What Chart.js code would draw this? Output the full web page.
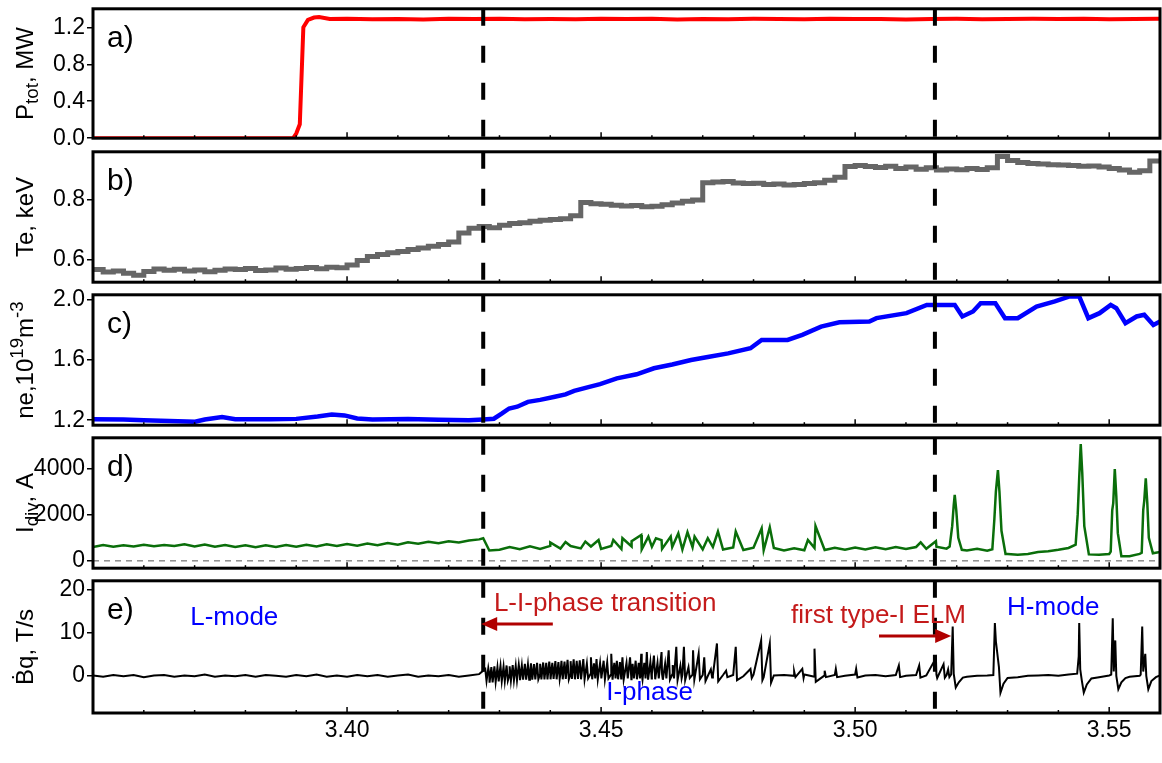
<!DOCTYPE html>
<html>
<head>
<meta charset="utf-8">
<script src="https://cdn.jsdelivr.net/npm/chart.js@4.4.1/dist/chart.umd.min.js"></script>
<style>
    html, body { margin: 0; padding: 0; background: #fff; }
    #wrap { position: relative; width: 1162px; height: 763px; overflow: hidden; background: #fff; }
    #wrap canvas { position: absolute; left: 0; }
</style>
</head>
<body>
<div id="wrap"></div>
<script>
// 1. Data
const tMin = 3.35, tMax = 3.56;
const xTickValues = [3.40, 3.45, 3.50, 3.55];
const xTickLabels = ['3.40', '3.45', '3.50', '3.55'];
const transitionTimes = [3.4268, 3.5157];   // L-I transition, first type-I ELM

// a) total power, MW
const ptotTimes = [3.350, 3.3894, 3.3900, 3.3907, 3.3914, 3.3923, 3.3935, 3.3945, 3.3966,
    3.400, 3.405, 3.410, 3.415, 3.420, 3.425, 3.430, 3.435, 3.440, 3.445, 3.450,
    3.455, 3.460, 3.465, 3.470, 3.475, 3.480, 3.485, 3.490, 3.495, 3.500, 3.505,
    3.510, 3.515, 3.520, 3.525, 3.530, 3.535, 3.540, 3.545, 3.550, 3.555, 3.560];
const ptotValues = [0, 0, 0.05, 0.15, 1.20, 1.28, 1.305, 1.31, 1.29,
    1.292, 1.288, 1.290, 1.285, 1.291, 1.289, 1.293, 1.287, 1.290, 1.288, 1.292,
    1.289, 1.291, 1.284, 1.290, 1.288, 1.291, 1.290, 1.287, 1.292, 1.289, 1.290,
    1.285, 1.289, 1.291, 1.288, 1.290, 1.292, 1.289, 1.291, 1.286, 1.290, 1.291];

// b) Te, keV — samples every 2 ms from 3.350
const teValues = [
    0.568, 0.560, 0.563, 0.556, 0.549, 0.562, 0.570, 0.566, 0.569, 0.563,
    0.567, 0.561, 0.566, 0.570, 0.568, 0.572, 0.565, 0.567, 0.573, 0.569,
    0.572, 0.575, 0.571, 0.576, 0.574, 0.583, 0.598, 0.612, 0.618, 0.624,
    0.628, 0.635, 0.640, 0.646, 0.652, 0.660, 0.690, 0.706, 0.712, 0.708,
    0.716, 0.722, 0.724, 0.729, 0.733, 0.735, 0.738, 0.748, 0.792, 0.788,
    0.786, 0.783, 0.780, 0.782, 0.778, 0.779, 0.784, 0.790, 0.796, 0.800,
    0.858, 0.860, 0.862, 0.857, 0.855, 0.856, 0.852, 0.854, 0.850, 0.852,
    0.855, 0.858, 0.866, 0.876, 0.912, 0.915, 0.912, 0.909, 0.913, 0.905,
    0.910, 0.903, 0.908, 0.900, 0.904, 0.901, 0.905, 0.902, 0.908, 0.945,
    0.932, 0.925, 0.922, 0.920, 0.918, 0.917, 0.915, 0.913, 0.914, 0.910,
    0.905, 0.900, 0.893, 0.898, 0.930, 0.922];

// c) ne, 10^19 m^-3
const neTimes = [3.350, 3.356, 3.360, 3.3701, 3.372, 3.3754, 3.378, 3.385, 3.390, 3.3942,
    3.397, 3.3995, 3.402, 3.405, 3.412, 3.418, 3.424, 3.4268, 3.4289, 3.4305,
    3.4319, 3.4335, 3.4356, 3.438, 3.4409, 3.443, 3.4447, 3.4475, 3.4498, 3.4531,
    3.457, 3.4604, 3.464, 3.4677, 3.471, 3.475, 3.4794, 3.4816, 3.4867, 3.4896,
    3.4933, 3.4969, 3.5028, 3.5042, 3.5101, 3.5141, 3.5196, 3.5211, 3.5232, 3.5247,
    3.5276, 3.5295, 3.532, 3.5357, 3.5393, 3.5422, 3.5441, 3.5459, 3.5481, 3.5503,
    3.5514, 3.5532, 3.5554, 3.5569, 3.5587, 3.560];
const neValues = [1.207, 1.205, 1.200, 1.190, 1.205, 1.222, 1.207, 1.207, 1.209, 1.225,
    1.238, 1.232, 1.212, 1.205, 1.208, 1.204, 1.200, 1.205, 1.210, 1.245,
    1.278, 1.290, 1.322, 1.335, 1.356, 1.372, 1.395, 1.420, 1.440, 1.478,
    1.505, 1.545, 1.570, 1.600, 1.620, 1.644, 1.678, 1.733, 1.733, 1.767,
    1.822, 1.851, 1.855, 1.878, 1.911, 1.966, 1.966, 1.889, 1.922, 1.977,
    1.977, 1.878, 1.878, 1.955, 1.989, 2.022, 2.022, 1.878, 1.911, 1.966,
    1.944, 1.844, 1.889, 1.900, 1.833, 1.855];

// d) Idiv, A — base samples every 2 ms from 3.350
const idivBase = [
    600, 690, 610, 680, 620, 700, 630, 690, 640, 720,
    620, 710, 610, 690, 600, 680, 590, 670, 600, 690,
    610, 700, 620, 720, 640, 730, 660, 750, 680, 770,
    700, 800, 740, 830, 760, 850, 800, 880, 930, 450,
    480, 600, 500, 630, 520, 650, 530, 640, 540, 620,
    520, 640, 510, 620, 500, 610, 520, 600, 490, 590,
    500, 600, 490, 580, 470, 570, 460, 560, 450, 550,
    460, 560, 470, 570, 480, 580, 490, 590, 500, 600,
    510, 600, 520, 610, 530, 520, 450, 520, 440, 450,
    300, 260, 300, 380, 420, 480, 560, 620, 380, 260,
    300, 300, 200, 300, 350, 380];
const idivSpikeTimes = [3.4268, 3.4400, 3.4430, 3.4469, 3.4495, 3.4524, 3.4542, 3.4560, 3.4579, 3.4593,
    3.4608, 3.4619, 3.4637, 3.4652, 3.4670, 3.4684, 3.4710, 3.4730, 3.4765, 3.4816,
    3.4832, 3.4907, 3.4922, 3.5129, 3.5159];
const idivSpikeValues = [980, 800, 820, 835, 900, 906, 980, 850, 1120, 1050,
    980, 900, 1050, 1190, 1240, 1050, 980, 1270, 1270, 1410,
    1450, 900, 1510, 800, 850];
const idivElmTimes = [
    [3.5186, 3.5191, 3.5194, 3.5196, 3.5199, 3.5203, 3.5210],
    [3.5270, 3.5274, 3.5277, 3.5281, 3.5284, 3.5288, 3.5296],
    [3.5434, 3.5438, 3.5441, 3.5444, 3.5447, 3.5451, 3.5460],
    [3.5503, 3.5506, 3.5508, 3.5511, 3.5514, 3.5517, 3.5524],
    [3.5564, 3.5567, 3.5569, 3.5572, 3.5575, 3.5578, 3.5586]];
const idivElmValues = [
    [620, 1500, 2400, 2850, 2200, 1000, 480],
    [500, 1800, 3000, 3930, 3000, 1300, 300],
    [700, 2000, 3600, 5050, 3800, 1500, 280],
    [400, 2200, 2500, 3970, 2800, 1200, 200],
    [350, 2200, 2600, 3570, 2500, 1000, 330]];

// e) dB/dt, T/s — base samples every 2 ms from 3.350
const bdotBase = [
    0.1, -0.2, 0.2, -0.1, 0.2, -0.3, 0.1, 0.2, -0.2, 0.1,
    -0.1, 0.3, -0.2, 0.1, -0.1, 0.2, -0.2, 0.2, 0.0, -0.2,
    0.2, -0.1, 0.3, -0.2, 0.1, -0.2, 0.2, -0.1, 0.2, -0.2,
    0.1, 0.3, -0.2, 0.1, -0.1, 0.2, -0.2, 0.1, 0.4, 0.3,
    0.5, 0.4, 0.6, 0.5, 0.4, 0.6, 0.5, 0.5, 0.4, 0.6,
    0.5, 0.4, 0.5, 0.4, 0.3, 0.5, 0.4, 0.3, 0.2, 0.3,
    0.2, 0.1, 0.2, 0.2, -0.1, 0.3, -0.3, 0.1, 0.2, 0.0,
    0.3, -0.2, 0.1, 0.2, 0.0, 0.3, 0.1, 0.2, -0.1, 0.2,
    0.0, 0.2, 0.1, 0.3, 0.2, 0.0, -0.2, 0.0, 0.1, 0.0,
    0.0, -0.3, 0.0, 0.1, 0.2, 0.0, 0.3, 0.0, 0.0, -0.3,
    0.1, 0.0, -0.2, 0.0, 0.0, 0.1];
const bdotSpikeTimes = [
    3.4272, 3.4278, 3.4284, 3.4290, 3.4296, 3.4302, 3.4308, 3.4314, 3.4320, 3.4326,
    3.4332, 3.4338, 3.4344, 3.4350, 3.4356, 3.4362, 3.4368, 3.4374, 3.4380, 3.4386,
    3.4392, 3.4398, 3.4404, 3.4410, 3.4416, 3.4422, 3.4428, 3.4434, 3.4440, 3.4446,
    3.4452, 3.4458, 3.4465, 3.4472, 3.4480, 3.4486, 3.4491, 3.4498, 3.4505, 3.4512,
    3.4520, 3.4526, 3.4531, 3.4537, 3.4542, 3.4550, 3.4557, 3.4562, 3.4568, 3.4574,
    3.4579, 3.4585, 3.4590, 3.4597, 3.4604, 3.4611, 3.4619, 3.4626, 3.4633, 3.4641,
    3.4648, 3.4656, 3.4663, 3.4672, 3.4681, 3.4692, 3.4703, 3.4716, 3.4728, 3.4746,
    3.4765, 3.4794, 3.4815, 3.4832, 3.4880, 3.4896, 3.4920, 3.4940, 3.4962, 3.5002,
    3.5086, 3.5126, 3.5159, 3.5174, 3.5183];
const bdotSpikePeaks = [
    1.6, 1.8, 2.0, 2.2, 2.0, 2.3, 2.1, 2.4, 2.2, 2.5,
    2.3, 2.6, 2.4, 2.8, 2.6, 2.9, 2.7, 3.0, 2.8, 3.1,
    3.0, 3.3, 3.0, 3.4, 3.2, 3.5, 3.3, 3.7, 3.4, 3.8,
    3.5, 3.6, 3.9, 2.8, 4.3, 2.9, 3.9, 3.0, 3.5, 3.1,
    5.1, 3.0, 3.5, 3.2, 4.3, 3.0, 4.3, 2.8, 3.5, 3.0,
    5.1, 3.0, 5.5, 3.2, 4.7, 3.0, 5.5, 2.8, 5.9, 2.5,
    6.7, 2.3, 6.7, 2.0, 5.9, 5.1, 4.3, 1.5, 7.5, 1.2,
    6.7, 1.6, 8.2, 7.5, 1.0, 1.6, 6.3, 1.2, 1.6, 1.6,
    2.4, 2.4, 4.1, 2.7, 1.5];
const bdotSpikeLows = [
    -1.2, -1.6, -1.5, -1.4, -1.3, -1.2, -1.2, -1.1, -1.1, -1.0,
    -1.0, -1.0, -0.9, -0.9, -0.9, -0.9, -0.8, -0.8, -0.8, -0.8,
    -0.8, -0.8, -0.7, -0.8, -0.7, -0.8, -0.7, -0.8, -0.7, -0.8,
    -0.7, -0.8, -0.8, -0.6, -0.8, -0.6, -0.8, -0.6, -0.8, -0.6,
    -0.9, -0.6, -0.8, -0.6, -0.8, -0.6, -0.8, -0.6, -0.8, -0.6,
    -0.9, -0.6, -0.9, -0.6, -0.8, -0.6, -0.9, -0.6, -0.9, -0.6,
    -1.0, -0.6, -1.0, -0.5, -0.9, -0.8, -1.2, -0.4, -1.3, -0.3,
    -1.0, -0.5, -1.0, -1.6, -0.3, -0.5, -1.4, -0.3, -0.3, -0.4,
    -0.3, -0.4, -0.5, -0.4, -0.3];
const bdotElmTimes = [
    [3.5189, 3.5192, 3.5194, 3.5198, 3.5204, 3.5212],
    [3.5272, 3.5275, 3.5277, 3.5283, 3.5286, 3.5292, 3.5300],
    [3.5437, 3.5440, 3.5441, 3.5443, 3.5446, 3.5450, 3.5456, 3.5465],
    [3.5504, 3.5507, 3.5509, 3.5512, 3.5514, 3.5518, 3.5524, 3.5532],
    [3.5562, 3.5565, 3.5567, 3.5571, 3.5573, 3.5577, 3.5583, 3.5592]];
const bdotElmValues = [
    [0.3, 11.4, 0.5, -2.7, -1.5, -0.4],
    [0.2, 12.2, 8.0, 2.0, -3.9, -1.8, -0.5],
    [0.5, 4.5, 12.2, 1.5, -1.0, -3.9, -2.0, -0.6],
    [0.3, 13.3, 1.0, 8.2, 0.0, -3.1, -1.5, -0.5],
    [0.3, 11.4, 1.0, 5.1, 0.0, -3.1, -1.2, -0.3]];

// 2. Helpers
const FONT = "'Liberation Sans', Arial, sans-serif";

function gridTimes(n) {
    const out = [];
    for (let i = 0; i < n; i++) out.push(Math.round((tMin + i * 0.002) * 10000) / 10000);
    return out;
}

function toPoints(ts, vs) {
    return ts.map((t, i) => ({ x: t, y: vs[i] }));
}

function mergeSeries(base, extra, elmTimes, elmValues) {
    const windows = elmTimes.map(ts => [ts[0] - 1e-7, ts[ts.length - 1] + 1e-7]);
    let pts = toPoints(gridTimes(base.length), base)
        .filter(p => !windows.some(w => p.x >= w[0] && p.x <= w[1]));
    pts = pts.concat(extra);
    elmTimes.forEach((ts, k) => { pts = pts.concat(toPoints(ts, elmValues[k])); });
    return pts.sort((a, b) => a.x - b.x);
}

const idivPoints = mergeSeries(idivBase, toPoints(idivSpikeTimes, idivSpikeValues), idivElmTimes, idivElmValues);

const bdotSpikePoints = [];
bdotSpikeTimes.forEach((t, i) => {
    bdotSpikePoints.push({ x: t, y: bdotSpikePeaks[i] });
    bdotSpikePoints.push({ x: t + 0.00025, y: bdotSpikeLows[i] });
});
const bdotPoints = mergeSeries(bdotBase, bdotSpikePoints, bdotElmTimes, bdotElmValues);

// 3. Panels
const panels = [
    { top: 7, h: 133, yMin: 0, yMax: 1.40, ticks: [0, 0.4, 0.8, 1.2], labels: ['0.0', '0.4', '0.8', '1.2'],
      letter: 'a)', title: [['P'], ['tot', 'sub'], [', MW']],
      series: { data: toPoints(ptotTimes, ptotValues), color: '#ff0000', width: 4 } },
    { top: 150, h: 134, yMin: 0.526, yMax: 0.961, ticks: [0.6, 0.8], labels: ['0.6', '0.8'],
      letter: 'b)', title: [['Te, keV']],
      series: { data: toPoints(gridTimes(teValues.length), teValues), color: '#666666', width: 5, stepped: true } },
    { top: 293, h: 134, yMin: 1.167, yMax: 2.033, ticks: [1.2, 1.6, 2.0], labels: ['1.2', '1.6', '2.0'],
      letter: 'c)', title: [['ne,10'], ['19', 'sup'], ['m'], ['-3', 'sup']],
      series: { data: toPoints(neTimes, neValues), color: '#0000ff', width: 4.5 } },
    { top: 436, h: 134, yMin: -317, yMax: 5324, ticks: [0, 2000, 4000], labels: ['0', '2000', '4000'],
      letter: 'd)', title: [['I'], ['div', 'sub'], [', A']], zeroLine: true,
      series: { data: idivPoints, color: '#0a6e0a', width: 2.5 } },
    { top: 579, h: 134, yMin: -8.6, yMax: 22, ticks: [0, 10, 20], labels: ['0', '10', '20'],
      letter: 'e)', title: [['\u1E02q, T/s']], last: true,
      series: { data: bdotPoints, color: '#000000', width: 2 } }
];

// 4. Plugins
const decoPlugin = {
    id: 'deco',
    beforeDatasetsDraw(chart) {
        const p = chart.options.plugins.deco;
        const { ctx, chartArea: a, scales } = chart;
        if (p.zeroLine) {
            const y = scales.y.getPixelForValue(0);
            ctx.save();
            ctx.strokeStyle = '#555';
            ctx.lineWidth = 1;
            ctx.setLineDash([6, 5]);
            ctx.beginPath(); ctx.moveTo(a.left, y); ctx.lineTo(a.right, y); ctx.stroke();
            ctx.restore();
        }
    },
    afterDraw(chart) {
        const p = chart.options.plugins.deco;
        const { ctx, chartArea: a, scales } = chart;
        ctx.save();
        // frame
        ctx.strokeStyle = '#000';
        ctx.lineWidth = 3;
        ctx.strokeRect(a.left, a.top, a.right - a.left, a.bottom - a.top);
        // inward time ticks along the bottom
        ctx.lineWidth = 1.5;
        for (let k = 0; k <= 21; k++) {
            const x = scales.x.getPixelForValue(tMin + k * 0.01);
            const len = k % 5 === 0 ? 6 : 3;
            ctx.beginPath(); ctx.moveTo(x, a.bottom); ctx.lineTo(x, a.bottom - len); ctx.stroke();
        }
        // panel letter
        ctx.fillStyle = '#000';
        ctx.font = `30px ${FONT}`;
        ctx.textBaseline = 'top';
        ctx.textAlign = 'left';
        ctx.fillText(p.letter, a.left + 14, a.top + 15);
        // rotated y title with sub/superscripts
        const size = 24;
        const parts = p.title.map(([txt, kind]) => ({ txt, kind, size: kind ? size * 0.78 : size }));
        let total = 0;
        parts.forEach(s => { ctx.font = `${s.size}px ${FONT}`; s.w = ctx.measureText(s.txt).width; total += s.w; });
        ctx.translate(33, (a.top + a.bottom) / 2);
        ctx.rotate(-Math.PI / 2);
        ctx.textBaseline = 'alphabetic';
        let cx = -total / 2;
        parts.forEach(s => {
            ctx.font = `${s.size}px ${FONT}`;
            const dy = s.kind === 'sub' ? size * 0.22 : s.kind === 'sup' ? -size * 0.42 : 0;
            ctx.fillText(s.txt, cx, dy);
            cx += s.w;
        });
        ctx.restore();
        if (p.last) drawAnnotations(chart);
    }
};

function arrow(ctx, x1, x2, y, color) {
    const dir = Math.sign(x2 - x1);
    ctx.strokeStyle = color; ctx.fillStyle = color; ctx.lineWidth = 3;
    ctx.beginPath(); ctx.moveTo(x1, y); ctx.lineTo(x2 - dir * 14, y); ctx.stroke();
    ctx.beginPath();
    ctx.moveTo(x2, y); ctx.lineTo(x2 - dir * 16, y - 7); ctx.lineTo(x2 - dir * 16, y + 7);
    ctx.closePath(); ctx.fill();
}

function drawAnnotations(chart) {
    const { ctx, scales } = chart;
    const X = t => scales.x.getPixelForValue(t);
    const Y = v => scales.y.getPixelForValue(v);
    ctx.save();
    ctx.font = `26px ${FONT}`;
    ctx.textBaseline = 'middle';
    ctx.textAlign = 'center';
    ctx.fillStyle = '#0000ff';
    ctx.fillText('L-mode', X(3.3778), Y(13.4));
    ctx.textAlign = 'left';
    ctx.fillText('H-mode', X(3.5299), Y(15.8));
    ctx.fillText('I-phase', X(3.451), Y(-4.0));
    ctx.fillStyle = '#c41a1a';
    ctx.fillText('L-I-phase transition', X(3.4289), Y(16.6));
    ctx.fillText('first type-I ELM', X(3.4874), Y(14.0));
    arrow(ctx, X(3.4405), X(3.4264), Y(12.0), '#b00000');
    arrow(ctx, X(3.5047), X(3.5189), Y(9.2), '#b00000');
    // x axis title
    ctx.fillStyle = '#000';
    ctx.textAlign = 'center';
    ctx.font = `24px ${FONT}`;
    ctx.fillText('Time, s', 612, 749);
    ctx.restore();
}

// 5. Charts
const wrap = document.getElementById('wrap');
panels.forEach(p => {
    const padTop = 14;
    const padBottom = p.last ? 0 : 14;
    const axisH = p.last ? 50 : 0;
    const canvas = document.createElement('canvas');
    const height = p.h + padTop + padBottom + axisH;
    canvas.width = 1162;
    canvas.height = height;
    canvas.style.width = '1162px';
    canvas.style.height = height + 'px';
    canvas.style.top = (p.top - padTop) + 'px';
    wrap.appendChild(canvas);

    const datasets = transitionTimes.map(t => ({
        data: [{ x: t, y: p.yMax }, { x: t, y: p.yMin }],
        borderColor: '#000', borderWidth: 4, borderDash: [17, 20], order: 0
    }));
    datasets.push({
        data: p.series.data, borderColor: p.series.color, borderWidth: p.series.width,
        stepped: p.series.stepped || false, order: 1
    });

    new Chart(canvas, {
        type: 'line',
        data: { datasets },
        options: {
            responsive: false,
            animation: false,
            devicePixelRatio: 1,
            layout: { padding: { top: padTop, bottom: padBottom, left: 0, right: 2 } },
            elements: { point: { radius: 0 }, line: { tension: 0, borderCapStyle: 'butt' } },
            plugins: {
                legend: { display: false },
                tooltip: { enabled: false },
                deco: { letter: p.letter, title: p.title, zeroLine: p.zeroLine, last: p.last }
            },
            scales: {
                x: {
                    type: 'linear', min: tMin, max: tMax, display: !!p.last,
                    afterBuildTicks: s => { s.ticks = xTickValues.map(v => ({ value: v })); },
                    afterFit: s => { s.height = axisH; },
                    ticks: { callback: (v, i) => xTickLabels[i], color: '#000', font: { family: FONT, size: 23 }, padding: 4, maxRotation: 0 },
                    grid: { display: false, drawTicks: false },
                    border: { display: false }
                },
                y: {
                    type: 'linear', min: p.yMin, max: p.yMax,
                    afterBuildTicks: s => { s.ticks = p.ticks.map(v => ({ value: v })); },
                    afterFit: s => { s.width = 93; },
                    ticks: { callback: (v, i) => p.labels[i], color: '#000', font: { family: FONT, size: 23 }, padding: 2 },
                    grid: { drawOnChartArea: false, tickLength: 6, color: '#000', lineWidth: 1.5 },
                    border: { display: false }
                }
            }
        },
        plugins: [decoPlugin]
    });
});
</script>
</body>
</html>
